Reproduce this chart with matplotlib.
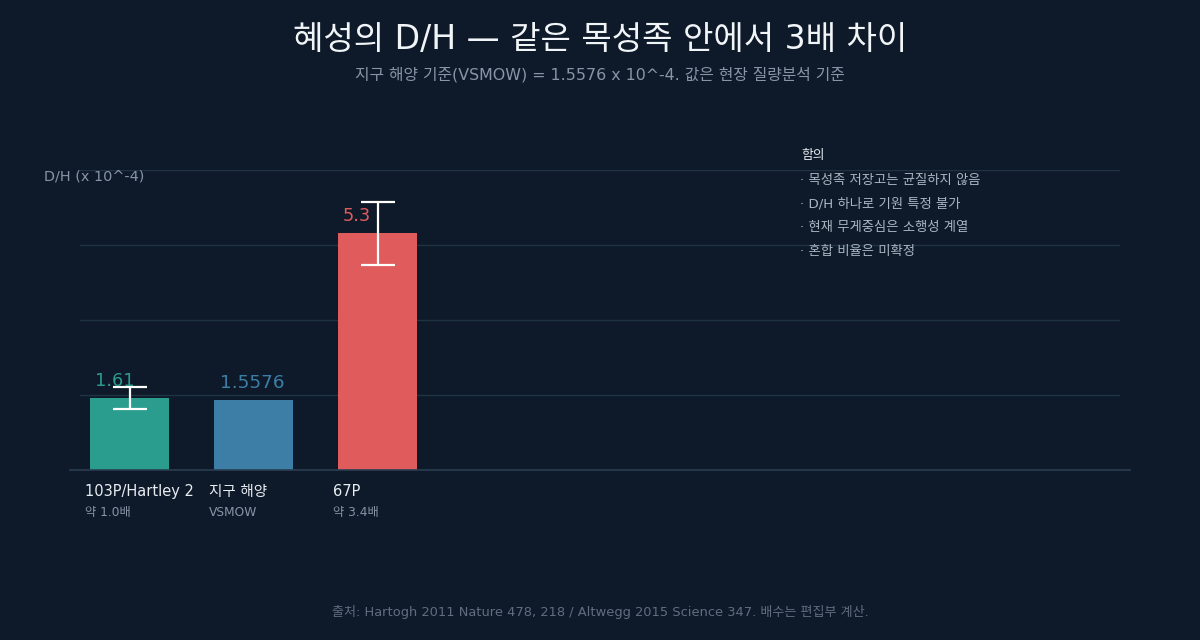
import matplotlib
matplotlib.use("Agg")
import matplotlib.pyplot as plt
from matplotlib.lines import Line2D

plt.rcParams['font.family'] = ['DejaVu Sans', 'Noto Sans CJK KR']

# data
names = ['103P/Hartley 2', '지구 해양', '67P']
subs = ['약 1.0배', 'VSMOW', '약 3.4배']
values = [1.61, 1.5576, 5.3]
errors = [0.24, None, 0.7]
labels = ['1.61', '1.5576', '5.3']
colors = ['#2a9d8f', '#3d7ea6', '#e05c5c']
notes = ['· 목성족 저장고는 균질하지 않음', '· D/H 하나로 기원 특정 불가',
         '· 현재 무게중심은 소행성 계열', '· 혼합 비율은 미확정']

bg = '#0e1a29'
grid_c = '#1e3344'
grey = '#8795a6'

W, H = 1200, 640
fig = plt.figure(figsize=(12, 6.4), dpi=100)
fig.patch.set_facecolor(bg)

# axes placed in pixels
ax = fig.add_axes([80 / W, (H - 470) / H, 1040 / W, 300 / H])
ax.set_facecolor(bg)
ymax = (5.3 + 0.7) * 1.12
ax.set_ylim(0, ymax)
ax.set_xlim(-0.4, -0.4 + 1040 / 124)
for k in range(1, 5):
    ax.axhline(ymax * k / 4, color=grid_c, lw=1, zorder=0)
for s in ax.spines.values():
    s.set_visible(False)
ax.set_xticks([])
ax.set_yticks([])

x = list(range(len(values)))
ax.bar(x, values, width=79 / 124, color=colors, zorder=2)
for i, v in enumerate(values):
    if errors[i] is not None:
        ax.errorbar(i, v, yerr=errors[i], color='white', lw=1.6,
                    capsize=12, capthick=1.6, zorder=3)
        ax.annotate(labels[i], (i - 0.32, v), xytext=(5, 12),
                    textcoords='offset pixels', color=colors[i],
                    fontsize=12.8, ha='left', va='baseline', zorder=4)
    else:
        ax.annotate(labels[i], (i, v), xytext=(-1, 12),
                    textcoords='offset pixels', color=colors[i],
                    fontsize=13.2, ha='center', va='baseline', zorder=4)
    ax.annotate(names[i], (i - 0.32, 0), xytext=(-5, -26),
                textcoords='offset pixels', color='#e8edf2',
                fontsize=10.5, ha='left', va='baseline', annotation_clip=False)
    ax.annotate(subs[i], (i - 0.32, 0), xytext=(-5, -46),
                textcoords='offset pixels', color=grey,
                fontsize=8.8, ha='left', va='baseline', annotation_clip=False)

# baseline
fig.add_artist(Line2D([70 / W, 1130 / W], [(H - 470) / H] * 2,
                      color='#2a3f52', lw=1.2))

fig.text(600 / W, 1 - 40 / H, '혜성의 D/H — 같은 목성족 안에서 3배 차이',
         color='#f2f5f8', fontsize=23.8, ha='center', va='center')
fig.text(600 / W, 1 - 75 / H,
         '지구 해양 기준(VSMOW) = 1.5576 x 10^-4. 값은 현장 질량분석 기준',
         color=grey, fontsize=11.4, ha='center', va='center')
fig.text(44 / W, 1 - 177 / H, 'D/H (x 10^-4)', color=grey,
         fontsize=10.4, ha='left', va='center')

fig.text(801 / W, 1 - 156 / H, '함의', color='#e8edf2', fontsize=9.2,
         ha='left', va='center')
for j, n in enumerate(notes):
    fig.text(800 / W, 1 - (180 + 24 * j) / H, n, color='#aab5c2',
             fontsize=9.6, ha='left', va='center')

fig.text(600 / W, 1 - 612 / H,
         '출처: Hartogh 2011 Nature 478, 218 / Altwegg 2015 Science 347. 배수는 편집부 계산.',
         color='#5f6e7f', fontsize=9.4, ha='center', va='center')

fig.savefig('out.png', dpi=100, facecolor=bg)
